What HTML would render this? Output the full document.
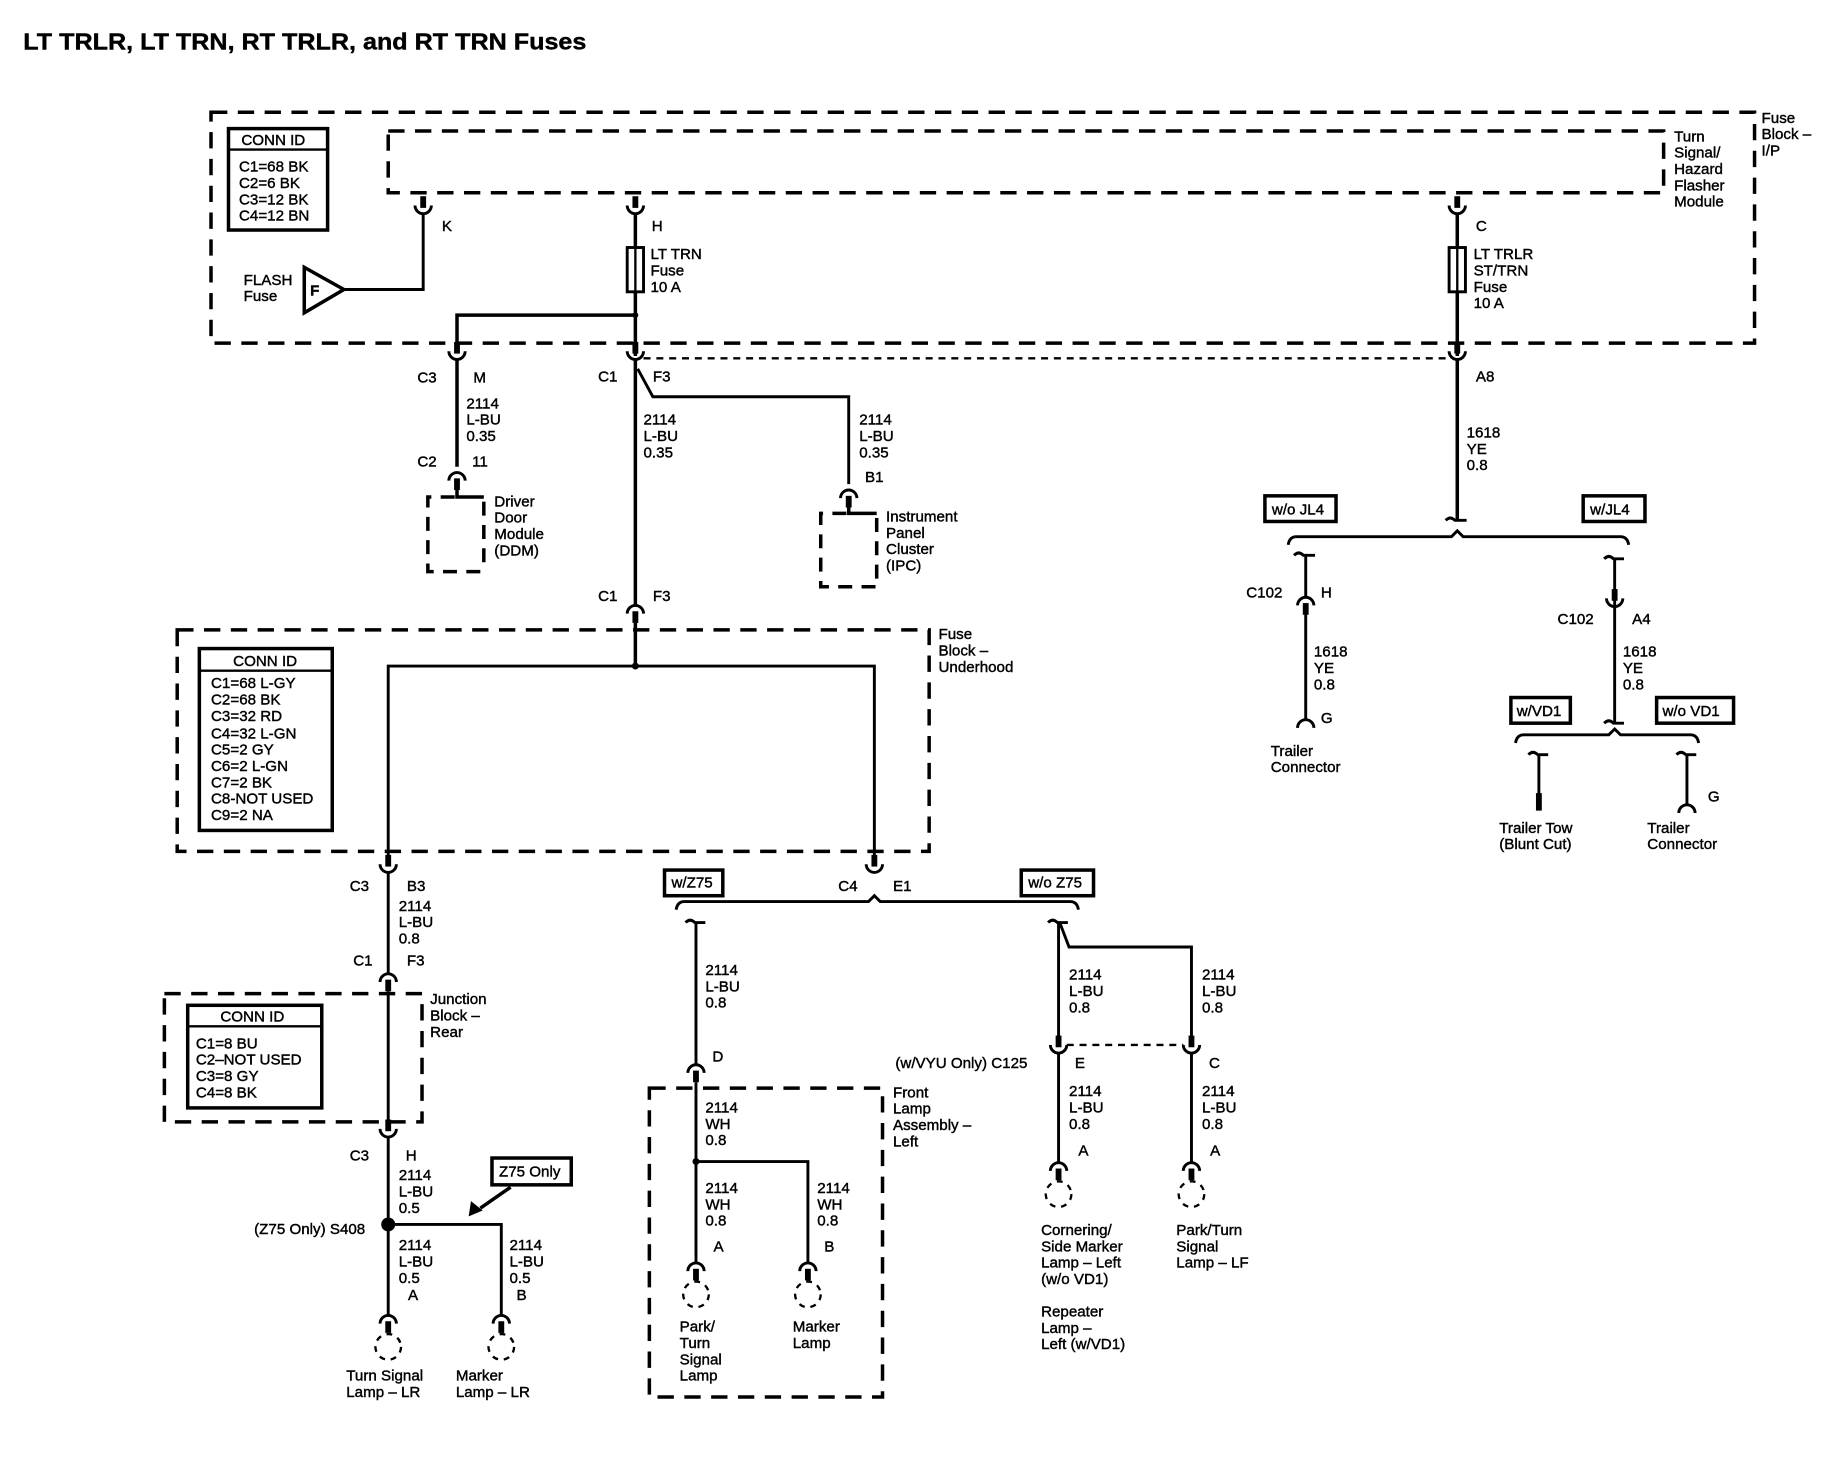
<!DOCTYPE html>
<html><head><meta charset="utf-8"><style>
html,body{margin:0;padding:0;background:#fff;}
svg{display:block;}
text{font-family:"Liberation Sans",Arial,sans-serif;font-size:13px;fill:#000;stroke:#000;stroke-width:0.35;}
.b{font-weight:bold;}
</style></head><body>
<svg width="1828" height="1472" viewBox="0 0 1568 1262" xmlns="http://www.w3.org/2000/svg">
<defs>
<g id="cu"><rect x="-2.5" y="-15" width="5" height="10" fill="#000"/><path d="M-7,-7 A7,7 0 0 0 7,-7" fill="none" stroke="#000" stroke-width="2.5"/></g>
<g id="cn"><rect x="-2.5" y="5" width="5" height="10" fill="#000"/><path d="M-7,7 A7,7 0 0 1 7,7" fill="none" stroke="#000" stroke-width="2.5"/></g>
<g id="an"><path d="M-7,7 A7,7 0 0 1 7,7" fill="none" stroke="#000" stroke-width="2.5"/></g>
<g id="lamp"><circle r="11" fill="none" stroke="#000" stroke-width="2" stroke-dasharray="5,5"/></g>
</defs>
<rect width="1568" height="1262" fill="#fff"/>
<text x="20" y="42" class="b" style="font-size:20px" textLength="483" lengthAdjust="spacingAndGlyphs">LT TRLR, LT TRN, RT TRLR, and RT TRN Fuses</text>

<g fill="none" stroke="#000">
<rect x="181" y="96" width="1324" height="198" stroke-width="3" stroke-dasharray="14,9"/>
<rect x="333" y="112" width="1094" height="53" stroke-width="3" stroke-dasharray="14,9"/>
<rect x="196" y="110" width="85" height="87" stroke-width="3"/>
<line x1="196" y1="128" x2="281" y2="128" stroke-width="2"/>
<polyline points="363,183 363,248 295,248" stroke-width="2.5"/>
<polygon points="261,229 261,268 295,248" stroke-width="3"/>
<line x1="545" y1="183" x2="545" y2="305" stroke-width="3"/>
<rect x="538" y="212" width="14" height="38" stroke-width="2.5" fill="#fff"/>
<line x1="545" y1="212" x2="545" y2="250" stroke-width="2"/>
<polyline points="545,270 392,270 392,300" stroke-width="3"/>
<line x1="552" y1="307" x2="1244" y2="307" stroke-width="2" stroke-dasharray="6,5"/>
<line x1="392" y1="308" x2="392" y2="400" stroke-width="3"/>
<polyline points="392,418 392,426 415,426" stroke-width="3"/>
<polyline points="390,426 367,426 367,490 415,490" stroke-width="3" stroke-dasharray="12,8"/>
<line x1="415" y1="430" x2="415" y2="490" stroke-width="3" stroke-dasharray="12,8"/>
<line x1="545" y1="308" x2="545" y2="520" stroke-width="3"/>
<polyline points="547,316 560,340 728,340 728,415" stroke-width="2.5"/>
<polyline points="728,432 728,440 752,440" stroke-width="3"/>
<polyline points="726,440 704,440 704,503 752,503" stroke-width="3" stroke-dasharray="12,8"/>
<line x1="752" y1="444" x2="752" y2="503" stroke-width="3" stroke-dasharray="12,8"/>
<line x1="1250" y1="183" x2="1250" y2="305" stroke-width="3"/>
<rect x="1243" y="212" width="14" height="38" stroke-width="2.5" fill="#fff"/>
<line x1="1250" y1="212" x2="1250" y2="250" stroke-width="2"/>
<line x1="1250" y1="308" x2="1250" y2="445" stroke-width="3"/>
<path d="M1240,446 Q1244,442 1248,446 L1258,446" stroke-width="2.5"/>
<path d="M1105,467 Q1106,460 1112,460 L1245,460 L1250,455 L1255,460 L1390,460 Q1396,460 1397,467" stroke-width="2.5"/>
<rect x="1085" y="425" width="61" height="22" stroke-width="3"/>
<rect x="1358" y="425" width="53" height="22" stroke-width="3"/>
<path d="M1110,476 Q1114,472 1118,476 L1128,476" stroke-width="2.5"/>
<line x1="1120" y1="476" x2="1120" y2="512" stroke-width="2.5"/>
<line x1="1120" y1="520" x2="1120" y2="617" stroke-width="2.5"/>
<path d="M1376,479 Q1380,475 1384,479 L1393,479" stroke-width="2.5"/>
<line x1="1385" y1="479" x2="1385" y2="620" stroke-width="2.5"/>
<path d="M1376,620 Q1380,616 1384,620 L1393,620" stroke-width="2.5"/>
<path d="M1300,637 Q1301,630 1307,630 L1380,630 L1385,625 L1390,630 L1450,630 Q1456,630 1457,637" stroke-width="2.5"/>
<rect x="1296" y="598" width="51" height="22" stroke-width="3"/>
<rect x="1421" y="598" width="66" height="22" stroke-width="3"/>
<path d="M1311,647 Q1315,643 1319,647 L1328,647" stroke-width="2.5"/>
<line x1="1320" y1="647" x2="1320" y2="682" stroke-width="2.5"/>
<rect x="1317.5" y="680" width="5" height="15" fill="#000" stroke="none"/>
<path d="M1438,647 Q1442,643 1446,647 L1455,647" stroke-width="2.5"/>
<line x1="1447" y1="647" x2="1447" y2="690" stroke-width="2.5"/>
<rect x="152" y="540" width="645" height="190" stroke-width="3" stroke-dasharray="14,9"/>
<rect x="171" y="556" width="114" height="156" stroke-width="3"/>
<line x1="171" y1="575" x2="285" y2="575" stroke-width="2"/>
<line x1="545" y1="534" x2="545" y2="571" stroke-width="3"/>
<polyline points="333,735 333,571 750,571 750,735" stroke-width="2.5"/>
<line x1="333" y1="748" x2="333" y2="835" stroke-width="2.5"/>
<rect x="141" y="852" width="221" height="110" stroke-width="3" stroke-dasharray="14,9"/>
<rect x="161" y="862" width="115" height="88" stroke-width="3"/>
<line x1="161" y1="880" x2="276" y2="880" stroke-width="2"/>
<line x1="333" y1="850" x2="333" y2="962" stroke-width="2.5"/>
<line x1="333" y1="975" x2="333" y2="1128" stroke-width="2.5"/>
<polyline points="333,1050 430,1050 430,1128" stroke-width="2.5"/>
<rect x="422" y="993" width="68" height="23" stroke-width="3"/>
<line x1="438" y1="1018" x2="412" y2="1036" stroke-width="3"/>
<rect x="570" y="746" width="50" height="22" stroke-width="3"/>
<rect x="876" y="746" width="62" height="22" stroke-width="3"/>
<path d="M580,780 Q581,773 587,773 L745,773 L750,768 L755,773 L918,773 Q924,773 925,780" stroke-width="2.5"/>
<path d="M588,791 Q592,787 596,791 L605,791" stroke-width="2.5"/>
<line x1="597" y1="791" x2="597" y2="913" stroke-width="2.5"/>
<rect x="557" y="933" width="200" height="265" stroke-width="3" stroke-dasharray="14,9"/>
<line x1="597" y1="928" x2="597" y2="1083" stroke-width="2.5"/>
<polyline points="597,996 693,996 693,1083" stroke-width="2.5"/>
<path d="M899,791 Q903,787 907,791 L916,791" stroke-width="2.5"/>
<line x1="908" y1="791" x2="908" y2="890" stroke-width="2.5"/>
<polyline points="909,791 917,812 1022,812 1022,890" stroke-width="2.5"/>
<line x1="915" y1="896" x2="1015" y2="896" stroke-width="2" stroke-dasharray="6,5"/>
<line x1="908" y1="903" x2="908" y2="997" stroke-width="2.5"/>
<line x1="1022" y1="903" x2="1022" y2="997" stroke-width="2.5"/>
</g>
<circle cx="545" cy="270" r="2.5"/><circle cx="545" cy="571" r="3"/><circle cx="333" cy="1050" r="6"/><circle cx="597" cy="996" r="3"/>
<polygon points="402,1043 404,1030 414,1038"/>

<use href="#cu" x="363" y="183"/><use href="#cu" x="545" y="183"/><use href="#cu" x="1250" y="183"/>
<use href="#cu" x="392" y="308"/><use href="#cu" x="545" y="308"/><use href="#cu" x="1250" y="308"/>
<use href="#cn" x="392" y="405"/><use href="#cn" x="728" y="420"/><use href="#cn" x="545" y="519"/>
<use href="#cn" x="1120" y="512"/><use href="#an" x="1120" y="617"/><use href="#cu" x="1385" y="520"/><use href="#an" x="1447" y="690"/>
<use href="#cu" x="333" y="748"/><use href="#cu" x="750" y="748"/>
<use href="#cn" x="333" y="835"/><use href="#cu" x="333" y="975"/>
<use href="#cn" x="333" y="1128"/><use href="#cn" x="430" y="1128"/>
<use href="#lamp" x="333" y="1155"/><use href="#lamp" x="430" y="1155"/>
<use href="#cn" x="597" y="913"/><use href="#cn" x="597" y="1083"/><use href="#cn" x="693" y="1083"/>
<use href="#lamp" x="597" y="1110"/><use href="#lamp" x="693" y="1110"/>
<use href="#cu" x="908" y="903"/><use href="#cu" x="1022" y="903"/>
<use href="#cn" x="908" y="997"/><use href="#cn" x="1022" y="997"/>
<use href="#lamp" x="908" y="1024"/><use href="#lamp" x="1022" y="1024"/>

<text x="207" y="124">CONN ID</text>
<text x="205" y="147">C1=68 BK</text><text x="205" y="161">C2=6 BK</text><text x="205" y="175">C3=12 BK</text><text x="205" y="189">C4=12 BN</text>
<text x="209" y="244">FLASH</text><text x="209" y="258">Fuse</text><text x="266" y="253" class="b">F</text>
<text x="379" y="198">K</text><text x="559" y="198">H</text><text x="1266" y="198">C</text>
<text x="558" y="222">LT TRN</text><text x="558" y="236">Fuse</text><text x="558" y="250">10 A</text>
<text x="1264" y="222">LT TRLR</text><text x="1264" y="236">ST/TRN</text><text x="1264" y="250">Fuse</text><text x="1264" y="264">10 A</text>
<text x="1436" y="121">Turn</text><text x="1436" y="135">Signal/</text><text x="1436" y="149">Hazard</text><text x="1436" y="163">Flasher</text><text x="1436" y="177">Module</text>
<text x="1511" y="105">Fuse</text><text x="1511" y="119">Block –</text><text x="1511" y="133">I/P</text>
<text x="358" y="328">C3</text><text x="406" y="328">M</text>
<text x="513" y="327">C1</text><text x="560" y="327">F3</text><text x="1266" y="327">A8</text>
<text x="400" y="350">2114</text><text x="400" y="364">L-BU</text><text x="400" y="378">0.35</text>
<text x="552" y="364">2114</text><text x="552" y="378">L-BU</text><text x="552" y="392">0.35</text>
<text x="737" y="364">2114</text><text x="737" y="378">L-BU</text><text x="737" y="392">0.35</text>
<text x="1258" y="375">1618</text><text x="1258" y="389">YE</text><text x="1258" y="403">0.8</text>
<text x="358" y="400">C2</text><text x="405" y="400">11</text>
<text x="742" y="413">B1</text>
<text x="424" y="434">Driver</text><text x="424" y="448">Door</text><text x="424" y="462">Module</text><text x="424" y="476">(DDM)</text>
<text x="760" y="447">Instrument</text><text x="760" y="461">Panel</text><text x="760" y="475">Cluster</text><text x="760" y="489">(IPC)</text>
<text x="1091" y="441">w/o JL4</text><text x="1364" y="441">w/JL4</text>
<text x="1069" y="512">C102</text><text x="1133" y="512">H</text>
<text x="1336" y="535">C102</text><text x="1400" y="535">A4</text>
<text x="1127" y="563">1618</text><text x="1127" y="577">YE</text><text x="1127" y="591">0.8</text>
<text x="1392" y="563">1618</text><text x="1392" y="577">YE</text><text x="1392" y="591">0.8</text>
<text x="1133" y="620">G</text>
<text x="1090" y="648">Trailer</text><text x="1090" y="662">Connector</text>
<text x="1301" y="614">w/VD1</text><text x="1426" y="614">w/o VD1</text>
<text x="1465" y="687">G</text>
<text x="1286" y="714">Trailer Tow</text><text x="1286" y="728">(Blunt Cut)</text>
<text x="1413" y="714">Trailer</text><text x="1413" y="728">Connector</text>
<text x="513" y="515">C1</text><text x="560" y="515">F3</text>
<text x="805" y="548">Fuse</text><text x="805" y="562">Block –</text><text x="805" y="576">Underhood</text>
<text x="200" y="571">CONN ID</text>
<text x="181" y="590">C1=68 L-GY</text><text x="181" y="604">C2=68 BK</text><text x="181" y="618">C3=32 RD</text><text x="181" y="633">C4=32 L-GN</text><text x="181" y="647">C5=2 GY</text><text x="181" y="661">C6=2 L-GN</text><text x="181" y="675">C7=2 BK</text><text x="181" y="689">C8-NOT USED</text><text x="181" y="703">C9=2 NA</text>
<text x="300" y="764">C3</text><text x="349" y="764">B3</text>
<text x="719" y="764">C4</text><text x="766" y="764">E1</text>
<text x="576" y="761">w/Z75</text><text x="882" y="761">w/o Z75</text>
<text x="342" y="781">2114</text><text x="342" y="795">L-BU</text><text x="342" y="809">0.8</text>
<text x="303" y="828">C1</text><text x="349" y="828">F3</text>
<text x="369" y="861">Junction</text><text x="369" y="875">Block –</text><text x="369" y="889">Rear</text>
<text x="189" y="876">CONN ID</text>
<text x="168" y="899">C1=8 BU</text><text x="168" y="913">C2–NOT USED</text><text x="168" y="927">C3=8 GY</text><text x="168" y="941">C4=8 BK</text>
<text x="300" y="995">C3</text><text x="348" y="995">H</text>
<text x="342" y="1012">2114</text><text x="342" y="1026">L-BU</text><text x="342" y="1040">0.5</text>
<text x="428" y="1009">Z75 Only</text>
<text x="218" y="1058">(Z75 Only) S408</text>
<text x="342" y="1072">2114</text><text x="342" y="1086">L-BU</text><text x="342" y="1100">0.5</text>
<text x="437" y="1072">2114</text><text x="437" y="1086">L-BU</text><text x="437" y="1100">0.5</text>
<text x="350" y="1115">A</text><text x="443" y="1115">B</text>
<text x="297" y="1184">Turn Signal</text><text x="297" y="1198">Lamp – LR</text>
<text x="391" y="1184">Marker</text><text x="391" y="1198">Lamp – LR</text>
<text x="605" y="836">2114</text><text x="605" y="850">L-BU</text><text x="605" y="864">0.8</text>
<text x="611" y="910">D</text>
<text x="766" y="941">Front</text><text x="766" y="955">Lamp</text><text x="766" y="969">Assembly –</text><text x="766" y="983">Left</text>
<text x="605" y="954">2114</text><text x="605" y="968">WH</text><text x="605" y="982">0.8</text>
<text x="605" y="1023">2114</text><text x="605" y="1037">WH</text><text x="605" y="1051">0.8</text>
<text x="701" y="1023">2114</text><text x="701" y="1037">WH</text><text x="701" y="1051">0.8</text>
<text x="612" y="1073">A</text><text x="707" y="1073">B</text>
<text x="583" y="1142">Park/</text><text x="583" y="1156">Turn</text><text x="583" y="1170">Signal</text><text x="583" y="1184">Lamp</text>
<text x="680" y="1142">Marker</text><text x="680" y="1156">Lamp</text>
<text x="917" y="840">2114</text><text x="917" y="854">L-BU</text><text x="917" y="868">0.8</text>
<text x="1031" y="840">2114</text><text x="1031" y="854">L-BU</text><text x="1031" y="868">0.8</text>
<text x="768" y="916">(w/VYU Only) C125</text><text x="922" y="916">E</text><text x="1037" y="916">C</text>
<text x="917" y="940">2114</text><text x="917" y="954">L-BU</text><text x="917" y="968">0.8</text>
<text x="1031" y="940">2114</text><text x="1031" y="954">L-BU</text><text x="1031" y="968">0.8</text>
<text x="925" y="991">A</text><text x="1038" y="991">A</text>
<text x="893" y="1059">Cornering/</text><text x="893" y="1073">Side Marker</text><text x="893" y="1087">Lamp – Left</text><text x="893" y="1101">(w/o VD1)</text>
<text x="893" y="1129">Repeater</text><text x="893" y="1143">Lamp –</text><text x="893" y="1157">Left (w/VD1)</text>
<text x="1009" y="1059">Park/Turn</text><text x="1009" y="1073">Signal</text><text x="1009" y="1087">Lamp – LF</text>
</svg>
</body></html>
